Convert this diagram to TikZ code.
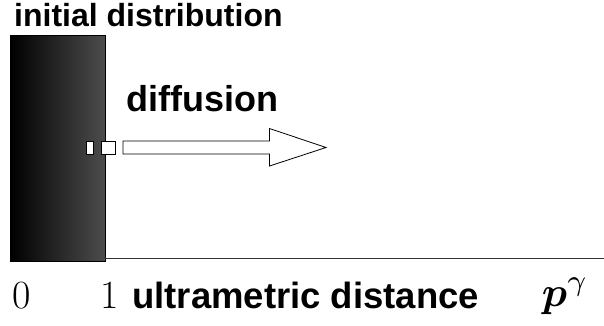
\documentclass[tikz,border=0pt]{standalone}
\usepackage{amsmath}
\usepackage{fontspec}
\newfontfamily\labelfont{Liberation Sans}
\tikzset{
  caption/.style={anchor=base west, inner sep=0pt, font=\labelfont\bfseries},
  tick/.style={anchor=base west, inner sep=0pt, font=\fontsize{40}{40}\selectfont},
  hollow/.style={draw=black, fill=white, line width=0.8pt}
}
\begin{document}
\begin{tikzpicture}[x=1pt, y=-1pt]
    \useasboundingbox (0,0) rectangle (604,325);

    % Draw initial distribution (shaded block)
    \shade[left color=black, right color=black!70] (10.5,35) rectangle (105,261);
    \draw[line width=0.5pt] (10.5,35) rectangle (105,261);

    % Draw axis
    \draw[line width=0.9pt, black!80] (105,258.5) -- (604,258.5);

    % Draw small boxes and the diffusion arrow
    \draw[hollow] (86,141) rectangle (93,154);
    \draw[hollow] (101,141) rectangle (115,154);
    \draw[hollow] (123,141) -- (269.5,141) -- (269.5,128.5) -- (326,147.5)
        -- (269.5,166) -- (269.5,154) -- (123,154) -- cycle;

    % Labels
    \node[caption, font=\labelfont\bfseries\fontsize{32}{32}\selectfont] (init) at (14,26) {initial distribution};
    \node[caption, font=\labelfont\bfseries\fontsize{36}{36}\selectfont] (diff) at (126,111) {diffusion};
    \node[caption, font=\labelfont\bfseries\fontsize{36.5}{36.5}\selectfont] (dist) at (132,308) {ultrametric distance};
    \node[tick] (zero) at (12,308) {0};
    \node[tick] (one) at (100,308) {1};
    \node[anchor=base west, inner sep=0pt, scale=4.2] (pg) at (541,306) {$\boldsymbol{p}^{\gamma}$};
\end{tikzpicture}
\end{document}
